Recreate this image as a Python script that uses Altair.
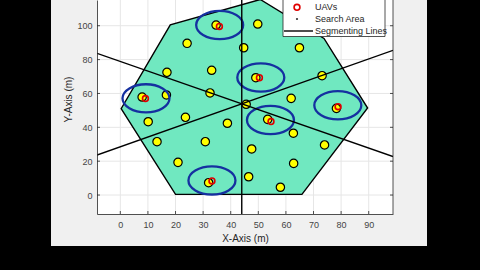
import altair as alt
import pandas as pd

# ---------------- data ----------------
x_range = [-8.45, 98.8]
y_range = [-11.2, 115.2]
x_ticks = [0, 10, 20, 30, 40, 50, 60, 70, 80, 90]
y_ticks = [0, 20, 40, 60, 80, 100]

# search area polygon (vertex order)
hex_x = [0.3, 20.0, 65.8, 89.6, 73.8, 50.7, 18.1]
hex_y = [51.0, 0.4, 0.4, 51.4, 92.5, 115.5, 100.5]

# targets (yellow)
target_x = [34.7, 49.8, 24.2, 44.7, 64.9, 16.9, 33.1, 73.1, 49.1, 7.9,
            16.7, 32.5, 61.9, 45.6, 78.3, 10.1, 23.6, 38.8, 53.4, 62.7,
            13.3, 30.8, 47.6, 74.0, 20.9, 62.8, 32.0, 46.5, 58.0]
target_y = [100.4, 101.0, 89.6, 87.0, 87.0, 72.5, 73.7, 70.5, 69.3, 57.9,
            59.1, 60.3, 57.1, 53.6, 51.2, 43.3, 45.9, 42.4, 44.7, 36.5,
            31.5, 31.5, 27.2, 29.6, 19.3, 18.7, 7.3, 10.8, 4.6]

# UAVs (red) and their sensor ranges (blue)
uav_x = [35.9, 50.4, 9.1, 78.9, 54.6, 33.2]
uav_y = [99.6, 69.3, 57.0, 52.2, 43.4, 8.3]
range_x = [36.0, 50.9, 9.3, 78.8, 54.4, 33.2]
range_y = [100.4, 69.4, 57.1, 53.0, 44.3, 8.6]

# segmenting lines
seg_id = ["a", "a", "b", "b", "c", "c"]
seg_x = [-8.45, 98.8, -8.45, 98.8, 44.0, 44.0]
seg_y = [83.7, 22.75, 23.6, 85.45, -11.2, 115.2]

legend_labels = ["UAVs", "Search Area", "Segmenting Lines"]

# ---------------- tables ----------------
hex_df = pd.DataFrame({"x": hex_x, "y": hex_y, "i": list(range(len(hex_x)))})
tgt_df = pd.DataFrame({"x": target_x, "y": target_y})
uav_df = pd.DataFrame({"x": uav_x, "y": uav_y})
rng_df = pd.DataFrame({"x": range_x, "y": range_y})
seg_df = pd.DataFrame({"x": seg_x, "y": seg_y, "id": seg_id})
xt_df = pd.DataFrame({"x": x_ticks})
yt_df = pd.DataFrame({"y": y_ticks})
one = pd.DataFrame({"k": [0]})

W, H = 296, 214
FONT = "Liberation Sans"
FILL = "#70e8c0"
BLUE = "#1530a0"
AX = "#262626"

xs = alt.Scale(domain=x_range, nice=False, zero=False)
ys = alt.Scale(domain=y_range, nice=False, zero=False)

x_axis = alt.Axis(values=x_ticks, grid=False, ticks=False, domainColor=AX,
                  domainWidth=0.8, labelFont=FONT, labelFontSize=9, labelColor="#444444",
                  labelPadding=6, title="X-Axis (m)", titleFont=FONT, titleFontSize=10,
                  titleFontWeight="normal", titleColor=AX, titleY=24,
                  titleBaseline="middle", zindex=1)
y_axis = alt.Axis(values=y_ticks, grid=False, ticks=False, domainColor=AX,
                  domainWidth=0.8, labelFont=FONT, labelFontSize=9, labelColor="#444444",
                  labelPadding=5, title="Y-Axis (m)", titleFont=FONT, titleFontSize=10,
                  titleFontWeight="normal", titleColor=AX, titleX=-29, titleY=99,
                  titleAngle=270, titleBaseline="middle", titleAlign="center", zindex=1)

X = alt.X("x:Q", scale=xs, axis=x_axis, title="X-Axis (m)")
Y = alt.Y("y:Q", scale=ys, axis=y_axis, title="Y-Axis (m)")

fig_bg = alt.Chart(one).mark_rect(color="#f0f0f0").encode(
    x=alt.value(-46), x2=alt.value(330), y=alt.value(0), y2=alt.value(246))
plot_bg = alt.Chart(one).mark_rect(color="white").encode(
    x=alt.value(0), x2=alt.value(W), y=alt.value(0), y2=alt.value(H))

vgrid = alt.Chart(xt_df).mark_rule(color="#e6e6e6", strokeWidth=1).encode(x=X)
hgrid = alt.Chart(yt_df).mark_rule(color="#e6e6e6", strokeWidth=1).encode(y=Y)

hexagon = alt.Chart(hex_df).mark_line(
    interpolate="linear-closed", fill=FILL, stroke="black", strokeWidth=1.4, clip=True
).encode(x=X, y=Y, order=alt.Order("i:Q"))

targets = alt.Chart(tgt_df).mark_circle(
    size=70, fill="#ffff00", stroke="black", strokeWidth=1.2, opacity=1
).encode(x=X, y=Y)

uavs = alt.Chart(uav_df).mark_point(
    shape="circle", filled=False, stroke="#e00000", strokeWidth=1.6, size=34, opacity=1
).encode(x=X, y=Y)

ELLIPSE = "M -1 0 A 1 0.6 0 1 1 1 0 A 1 0.6 0 1 1 -1 0 Z"
ranges = alt.Chart(rng_df).mark_point(
    shape=ELLIPSE, filled=False, stroke=BLUE, strokeWidth=2.3, size=2209, opacity=1
).encode(x=X, y=Y)

segs = alt.Chart(seg_df).mark_line(color="black", strokeWidth=1.4, clip=True).encode(
    x=X, y=Y, detail="id:N")

# inward tick marks (MATLAB style, mirrored on the right)
xticks_in = alt.Chart(xt_df).mark_rule(color=AX, strokeWidth=0.8).encode(
    x=X, y=alt.value(H - 3), y2=alt.value(H))
yticks_in = alt.Chart(yt_df).mark_rule(color=AX, strokeWidth=0.8).encode(
    y=Y, x=alt.value(0), x2=alt.value(3))
yticks_r = alt.Chart(yt_df).mark_rule(color=AX, strokeWidth=0.8).encode(
    y=Y, x=alt.value(W - 3), x2=alt.value(W))

right_border = alt.Chart(one).mark_rule(color=AX, strokeWidth=0.8).encode(
    x=alt.value(W), y=alt.value(0), y2=alt.value(H))

# legend (drawn by hand, its top is cut off like in the reference)
leg_box = alt.Chart(one).mark_rect(fill="white", stroke=AX, strokeWidth=0.8).encode(
    x=alt.value(186), x2=alt.value(288), y=alt.value(-30), y2=alt.value(36.5))
leg_t = alt.Chart(one).mark_circle(size=70, fill="#ffff00", stroke="black",
                                   strokeWidth=1.2, opacity=1).encode(
    x=alt.value(200), y=alt.value(-5))
leg_u = alt.Chart(one).mark_point(shape="circle", filled=False, stroke="#e00000",
                                  strokeWidth=1.6, size=34, opacity=1).encode(
    x=alt.value(200), y=alt.value(7.3))
leg_s = alt.Chart(one).mark_circle(size=5, color="#333333", opacity=1).encode(
    x=alt.value(200), y=alt.value(19))
leg_l = alt.Chart(one).mark_rule(color="black", strokeWidth=1.4).encode(
    x=alt.value(187), x2=alt.value(216), y=alt.value(31))
leg_texts = [
    alt.Chart(one).mark_text(text=lab, align="left", baseline="middle", font=FONT,
                             fontSize=9, color=AX).encode(
        x=alt.value(218), y=alt.value(yy))
    for lab, yy in zip(legend_labels, [7.3, 19, 31])
]

chart = alt.layer(
    fig_bg, plot_bg, vgrid, hgrid, hexagon, targets, uavs, ranges, segs,
    xticks_in, yticks_in, yticks_r, right_border,
    leg_box, leg_t, leg_u, leg_s, leg_l, *leg_texts
).properties(
    width=W, height=H,
    autosize=alt.AutoSizeParams(type="none"),
    padding={"left": 97, "top": 0, "right": 87, "bottom": 56},
    background="black",
).configure_view(strokeWidth=0)

chart.save("out.html", embed_options={"renderer": "svg", "actions": False})
